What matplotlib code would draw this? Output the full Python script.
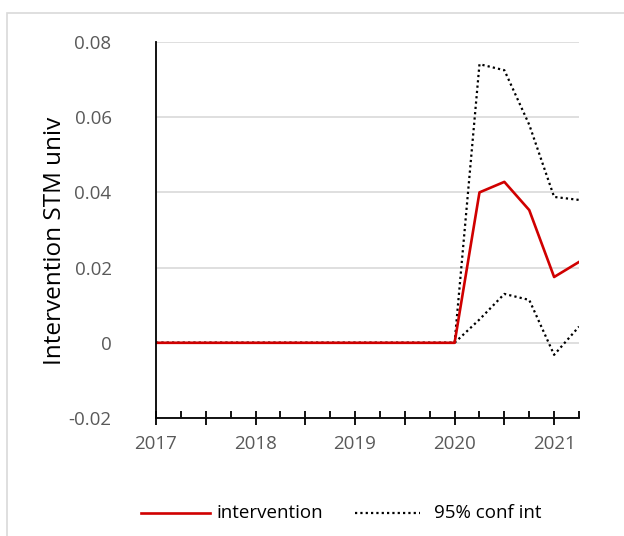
import matplotlib
matplotlib.use("Agg")
import matplotlib.pyplot as plt
from matplotlib.patches import Rectangle
from matplotlib.ticker import FixedLocator

plt.rcParams["font.family"] = ["Open Sans", "DejaVu Sans"]

# quarterly time axis, 2017Q1 .. 2021Q2
quarters = [2017 + 0.25 * i for i in range(18)]
pre = [0.0] * 12  # flat before 2020
intervention = pre + [0.0, 0.0400, 0.0428, 0.0353, 0.0175, 0.0215]
ci_upper = pre + [0.0, 0.0741, 0.0725, 0.0580, 0.0388, 0.0380]
ci_lower = pre + [0.0, 0.0062, 0.0130, 0.0114, -0.0032, 0.0043]

year_ticks = [2017, 2018, 2019, 2020, 2021]
y_ticks = [-0.02, 0, 0.02, 0.04, 0.06, 0.08]
y_labels = ["-0.02", "0", "0.02", "0.04", "0.06", "0.08"]

fig = plt.figure(figsize=(6.24, 5.36), dpi=100)
fig.patches.append(Rectangle((7 / 624, -0.1), 1.2, 1 - 13 / 536 + 0.1,
                             transform=fig.transFigure, fill=False,
                             edgecolor="#d9d9d9", linewidth=1.2))

ax = fig.add_axes([156 / 624, 1 - 418 / 536, (579 - 156) / 624, (418 - 42) / 536])

dots = (0, (1, 1.4))
ax.plot(quarters, ci_upper, color="black", linestyle=dots, linewidth=1.6)
ax.plot(quarters, ci_lower, color="black", linestyle=dots, linewidth=1.6)
ax.plot(quarters, intervention, color="#d00000", linewidth=1.9)

ax.set_xlim(2017, 2021.25)
ax.set_ylim(-0.02, 0.08)

ax.set_yticks(y_ticks)
ax.set_yticklabels(y_labels)
ax.yaxis.grid(True, color="#d9d9d9", linewidth=1.2)
ax.set_axisbelow(True)
ax.tick_params(axis="y", length=0, pad=32, labelsize=13.5, labelcolor="#595959")

ax.xaxis.set_major_locator(FixedLocator([2017 + 0.5 * i for i in range(9)]))
ax.xaxis.set_minor_locator(FixedLocator([2017.25 + 0.5 * i for i in range(9)]))
ax.set_xticklabels([str(int(t)) if t in year_ticks else "" for t in ax.get_xticks()])
ax.tick_params(axis="x", which="major", direction="inout", length=10, width=1.3,
               labelsize=13.5, labelcolor="#595959", pad=7)
ax.tick_params(axis="x", which="minor", direction="in", length=5, width=1.3)

for side in ["top", "right"]:
    ax.spines[side].set_visible(False)
ax.spines["left"].set_linewidth(1.3)
ax.spines["bottom"].set_linewidth(1.3)

fig.text(55 / 624, 1 - 241 / 536, "Intervention STM univ", fontsize=17.5,
         rotation=90, ha="center", va="center")

# legend drawn manually below the axes
fig.lines.append(plt.Line2D([141 / 624, 210 / 624], [1 - 513 / 536] * 2,
                            transform=fig.transFigure, color="#d00000", linewidth=1.9))
fig.text(216 / 624, 1 - 513 / 536, "intervention", fontsize=13.5, va="center")
fig.lines.append(plt.Line2D([355 / 624, 420 / 624], [1 - 513 / 536] * 2,
                            transform=fig.transFigure, color="black",
                            linestyle=dots, linewidth=1.6))
fig.text(434 / 624, 1 - 513 / 536, "95% conf int", fontsize=13.5, va="center")

fig.savefig("out.png", dpi=100)
